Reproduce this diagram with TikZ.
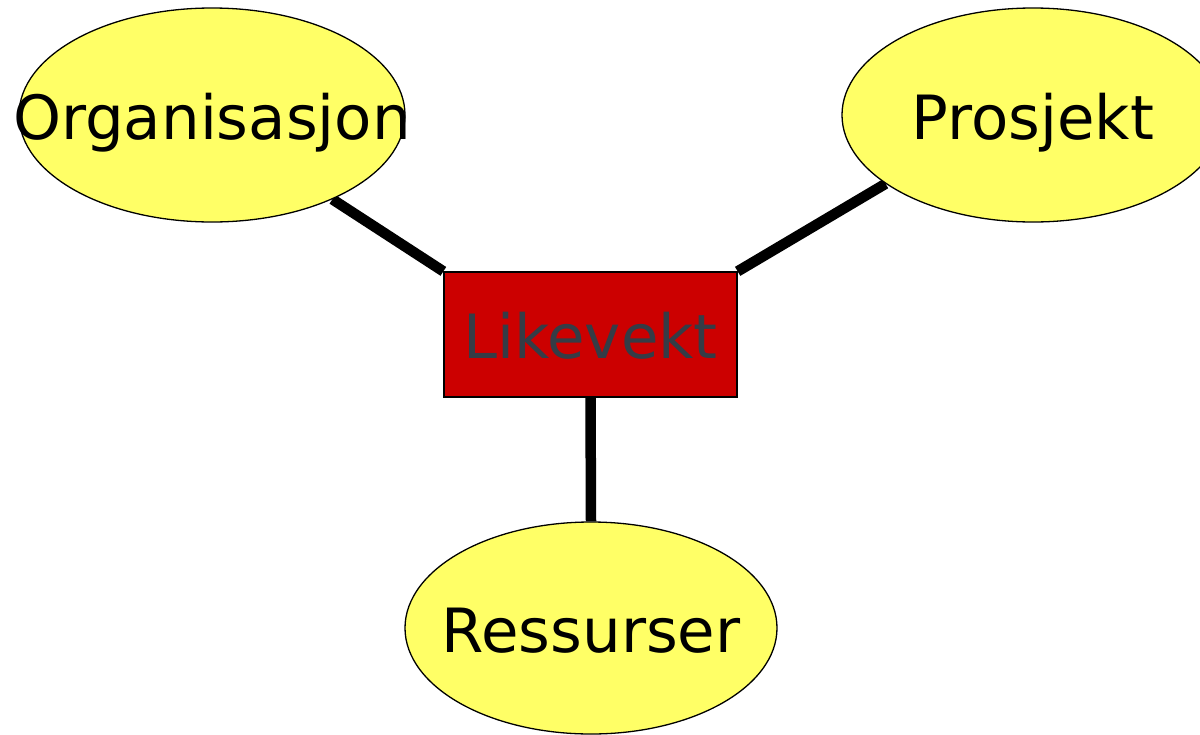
\documentclass[tikz,border=0pt]{standalone}
\usepackage{fontspec}
\setmainfont{DejaVu Sans}
\usetikzlibrary{shapes.geometric,backgrounds}
\definecolor{bubble}{HTML}{FFFF66}
\definecolor{hub}{HTML}{CC0000}
\definecolor{hubtext}{HTML}{353C46}
\tikzset{
  word/.style={inner sep=0pt, font=\fontsize{61}{61}\selectfont,
    text height=55pt, text depth=7pt},
  bubble/.style={ellipse, draw=black, line width=1.3pt, fill=bubble,
    inner sep=0pt, minimum width=386pt, minimum height=214pt},
  hubbox/.style={rectangle, draw=black, line width=1.3pt, fill=hub,
    inner sep=0pt, minimum width=293pt, minimum height=125pt},
  link/.style={line width=10.5pt, black}
}
\begin{document}
\begin{tikzpicture}[x=1pt, y=-1pt]
  \useasboundingbox (0,0) rectangle (1200,734);
  \clip (0,0) rectangle (1200,734);

  % the four topics; words sit on top of the shapes and may overhang them
  \node[bubble, label={[word]center:Organisasjon}] (org) at (212,115) {};
  \node[bubble, minimum width=382pt, label={[word]center:Prosjekt}] (pro) at (1033,115) {};
  \node[bubble, minimum width=372pt, minimum height=212pt,
        label={[word]center:Ressurser}] (res) at (591,628) {};
  \node[hubbox, label={[word, text=hubtext]center:Likevekt}] (lik) at (590.5,334.5) {};

  % thick spokes behind the shapes
  \begin{scope}[on background layer]
    \fill[white] (0,0) rectangle (1200,734);
    \draw[link] (org.325) -- (lik.north west);
    \draw[link] (pro.205) -- (lik.north east);
    \draw[link] (lik.south) -- (res.north);
  \end{scope}
\end{tikzpicture}
\end{document}
